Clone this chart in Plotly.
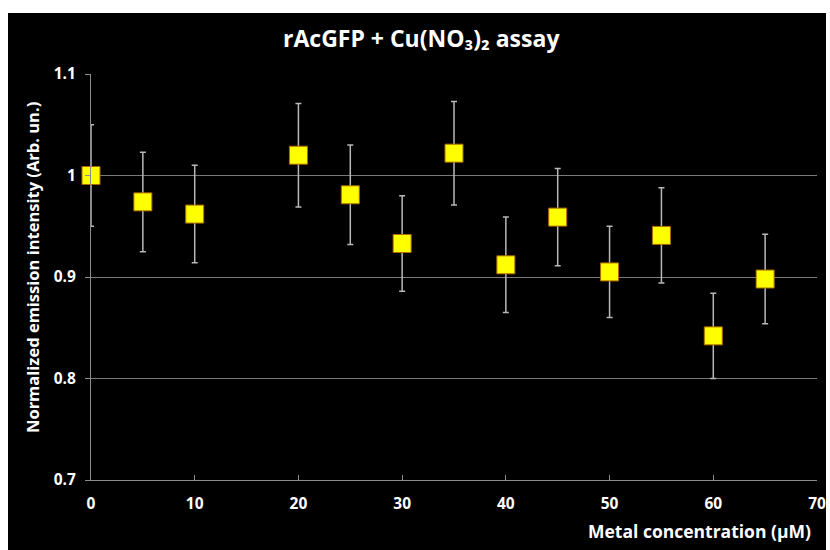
import plotly.graph_objects as go

concentration = [0, 5, 10, 20, 25, 30, 35, 40, 45, 50, 55, 60, 65]
intensity = [1.000, 0.974, 0.962, 1.020, 0.981, 0.933, 1.022, 0.912, 0.959, 0.905, 0.941, 0.842, 0.898]
error = [0.050, 0.049, 0.048, 0.051, 0.049, 0.047, 0.051, 0.047, 0.048, 0.045, 0.047, 0.042, 0.044]

W, H = 830, 550
L, R, T, B = 91, 13, 74, 70
pw, ph = W - L - R, H - T - B

def px_x(p):
    return (p - L) / pw

def px_y(p):
    return (H - B - p) / ph

FONT = "Open Sans"

fig = go.Figure()
fig.add_trace(go.Scatter(
    x=concentration, y=intensity, mode="markers",
    marker=dict(symbol="square", size=18, color="#FFFF00",
                line=dict(color="#A86A00", width=1)),
    error_y=dict(type="data", array=error, visible=True,
                 color="#B8B8B8", thickness=1.5, width=3),
    showlegend=False, cliponaxis=False,
))

fig.update_layout(
    width=W, height=H,
    margin=dict(l=L, r=R, t=T, b=B, autoexpand=False),
    paper_bgcolor="white",
    plot_bgcolor="black",
    font=dict(family=FONT, color="white"),
    shapes=[dict(type="rect", xref="paper", yref="paper", layer="below",
                 x0=px_x(8), x1=px_x(826), y0=px_y(550), y1=px_y(13),
                 fillcolor="black", line=dict(width=0))],
    annotations=[
        dict(text="<b>rAcGFP + Cu(NO₃)₂ assay</b>", xref="paper", yref="paper",
             x=px_x(421), y=px_y(38), showarrow=False,
             font=dict(size=23, family=FONT, color="white"),
             xanchor="center", yanchor="middle"),
        dict(text="<b>Metal concentration (µM)</b>", xref="paper", yref="paper",
             x=px_x(813), y=px_y(531), showarrow=False,
             font=dict(size=17.5, family=FONT, color="white"),
             xanchor="right", yanchor="middle"),
        dict(text="<b>Normalized emission intensity (Arb. un.)</b>", xref="paper", yref="paper",
             x=px_x(32), y=px_y(268), showarrow=False, textangle=-90,
             font=dict(size=16.5, family=FONT, color="white"),
             xanchor="center", yanchor="middle"),
    ],
)

fig.update_xaxes(
    range=[0, 70], dtick=10, tick0=0, automargin=False,
    showgrid=False, zeroline=False,
    showline=True, linecolor="#8C8C8C", linewidth=1,
    ticks="inside", ticklen=5, tickcolor="#8C8C8C",
    tickfont=dict(size=15.5, family=FONT, color="white"),
    tickprefix="<b>", ticksuffix="</b>",
    ticklabelstandoff=9,
)
fig.update_yaxes(
    range=[0.7, 1.1], dtick=0.1, tick0=0.7, automargin=False,
    showgrid=True, gridcolor="#7A7A7A", gridwidth=1,
    zeroline=False,
    showline=True, linecolor="#8C8C8C", linewidth=1,
    ticks="outside", ticklen=5, tickcolor="#8C8C8C",
    tickfont=dict(size=15.5, family=FONT, color="white"),
    tickprefix="<b>", ticksuffix="</b>",
    ticklabelstandoff=6,
)

fig.write_html("out.html")
